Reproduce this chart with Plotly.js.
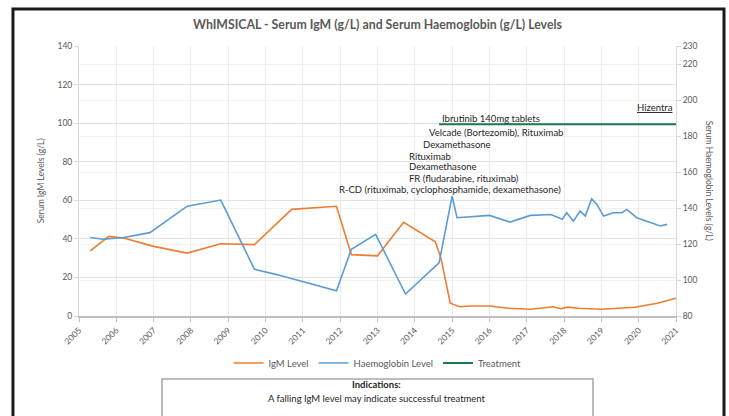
<!DOCTYPE html>
<html>
<head>
<meta charset="utf-8">
<script src="https://cdn.plot.ly/plotly-3.0.1.min.js"></script>
<style>
html,body{margin:0;padding:0;background:#fff;}
#chart{width:729px;height:416px;}
</style>
</head>
<body>
<div id="chart"></div>
<script>
// ---- Data (decimal years) ----
var igmDates = [2005.3, 2005.8, 2006.2, 2007.0, 2007.9, 2008.8, 2009.7, 2010.7, 2011.9, 2012.3, 2013.0, 2013.7, 2014.55, 2014.7, 2014.95, 2015.2, 2015.5, 2016.0, 2016.5, 2017.1, 2017.7, 2017.9, 2018.1, 2018.4, 2019.0, 2019.9, 2020.5, 2021.0];
var igmValues = [33.8, 41.3, 40.4, 36.1, 32.6, 37.5, 37.0, 55.3, 56.9, 31.8, 31.2, 48.6, 38.5, 30.0, 6.6, 4.8, 5.2, 5.2, 4.0, 3.5, 4.8, 3.8, 4.6, 4.0, 3.5, 4.5, 6.6, 9.2];

var hbDates = [2005.3, 2005.65, 2006.2, 2006.9, 2007.9, 2008.8, 2009.7, 2010.3, 2011.9, 2012.3, 2012.95, 2013.75, 2014.65, 2015.0, 2015.13, 2016.0, 2016.55, 2017.1, 2017.65, 2017.95, 2018.07, 2018.25, 2018.43, 2018.57, 2018.74, 2018.88, 2019.06, 2019.32, 2019.55, 2019.68, 2019.95, 2020.31, 2020.58, 2020.76];
var hbValues = [123.6, 122.6, 123.6, 126.3, 141.0, 144.4, 106.0, 103.0, 94.0, 117.1, 125.4, 92.2, 109.5, 146.6, 134.6, 135.9, 132.2, 135.9, 136.4, 133.7, 137.4, 132.7, 138.3, 135.5, 145.1, 142.0, 135.5, 137.4, 137.4, 139.2, 134.6, 131.9, 130.0, 130.9];

var treatmentLineDates = [2014.65, 2021.0];
var treatmentLineLevels = [99.4, 99.4];

var treatmentNames = [
  "R-CD (rituximab, cyclophosphamide, dexamethasone)",
  "FR (fludarabine, rituximab)",
  "Dexamethasone",
  "Rituximab",
  "Dexamethasone",
  "Velcade (Bortezomib), Rituximab",
  "Ibrutinib 140mg tablets",
  "<u>Hizentra</u>"
];
var treatmentDates = [2011.92, 2013.79, 2013.79, 2013.79, 2014.17, 2014.33, 2014.68, 2019.9];
var treatmentLevels = [65.6, 71.3, 77.6, 82.8, 89.0, 95.3, 102.6, 108.0];

var yearTicks = [2005,2006,2007,2008,2009,2010,2011,2012,2013,2014,2015,2016,2017,2018,2019,2020,2021];
var yearLabels = yearTicks.map(String);
var leftTicks = [0,20,40,60,80,100,120,140];
var rightTicks = [80,100,120,140,160,180,200,220,230];

var chartTitle = "WhIMSICAL - Serum IgM (g/L) and Serum Haemoglobin (g/L) Levels";
var leftTitle = "Serum IgM Levels (g/L)";
var rightTitle = "Serum Haemoglobin Levels (g/L)";
var noteTitle = "Indications:";
var noteText = "A falling IgM level may indicate successful treatment";

// ---- Traces ----
var FONT = "Lato, 'Liberation Sans', sans-serif";
var traces = [
  {x: igmDates, y: igmValues, name: "IgM Level", mode: "lines", type: "scatter",
   line: {color: "#ED7D31", width: 1.6}, yaxis: "y"},
  {x: hbDates, y: hbValues, name: "Haemoglobin Level", mode: "lines", type: "scatter",
   line: {color: "#5B9BD5", width: 1.6}, yaxis: "y2"},
  {x: treatmentLineDates, y: treatmentLineLevels, name: "Treatment", mode: "lines", type: "scatter",
   line: {color: "#1E7A4C", width: 2}, yaxis: "y"}
];

var annotations = treatmentNames.map(function(t, i){
  return {x: treatmentDates[i], y: treatmentLevels[i], xref: "x", yref: "y",
    text: t, showarrow: false, xanchor: "left", yanchor: "middle",
    font: {family: FONT, size: 9.5, color: "#262626"}};
});
annotations.push({x: -0.075, y: 0.5, xref: "paper", yref: "paper", text: leftTitle,
  showarrow: false, textangle: -90, font: {family: FONT, size: 8.5, color: "#595959"}});
annotations.push({x: 1.0676, y: 0.5, xref: "paper", yref: "paper", text: rightTitle,
  showarrow: false, textangle: 90, font: {family: FONT, size: 8.5, color: "#595959"}});
annotations.push({x: 0.499, y: -0.281, xref: "paper", yref: "paper", text: "<b>" + noteTitle + "</b>",
  showarrow: false, font: {family: FONT, size: 9.5, color: "#262626"}});
annotations.push({x: 0.499, y: -0.333, xref: "paper", yref: "paper", text: noteText,
  showarrow: false, font: {family: FONT, size: 9.5, color: "#262626"}});

var layout = {
  width: 729, height: 416,
  margin: {l: 79, r: 53, t: 46, b: 100, pad: 0},
  paper_bgcolor: "#ffffff", plot_bgcolor: "#ffffff",
  font: {family: FONT, size: 8.5, color: "#595959"},
  title: {text: "<b>" + chartTitle + "</b>", x: 0.5, xref: "paper", xanchor: "center",
    y: 1 - 25/416, yref: "container", yanchor: "middle",
    font: {family: FONT, size: 12.3, color: "#595959"}},
  xaxis: {range: [2005, 2021], tickmode: "array", tickvals: yearTicks, ticktext: yearLabels,
    tickangle: -45, showgrid: true, gridcolor: "#ebebeb", gridwidth: 1,
    showline: true, linecolor: "#bfbfbf", linewidth: 2, ticks: "outside", ticklen: 4,
    tickcolor: "#bfbfbf", zeroline: false, tickfont: {size: 8.5, color: "#595959"}},
  yaxis: {range: [0, 140], tickmode: "array", tickvals: leftTicks, showgrid: true,
    gridcolor: "#e3e3e3", showline: true, linecolor: "#d9d9d9", linewidth: 1,
    ticks: "outside", ticklen: 4, tickcolor: "#d9d9d9", zeroline: false,
    tickfont: {size: 8.5, color: "#595959"}},
  yaxis2: {range: [80, 230], tickmode: "array", tickvals: rightTicks, overlaying: "y", side: "right",
    showgrid: true, gridcolor: "#f2f2f2", showline: true, linecolor: "#d9d9d9", linewidth: 1,
    ticks: "outside", ticklen: 4, tickcolor: "#d9d9d9", zeroline: false,
    tickfont: {size: 8.5, color: "#595959"}},
  showlegend: true,
  legend: {orientation: "h", x: 0.5, xanchor: "center", y: -0.174, yanchor: "middle",
    font: {family: FONT, size: 9.5, color: "#595959"}, bgcolor: "rgba(0,0,0,0)"},
  shapes: [
    {type: "rect", xref: "paper", yref: "paper", x0: 0.139, x1: 0.861, y0: -0.45, y1: -0.233,
     line: {color: "#a6a6a6", width: 1.5}, fillcolor: "rgba(0,0,0,0)", layer: "above"},
    {type: "rect", xref: "paper", yref: "paper", x0: -0.1106, x1: 1.0804, y0: -0.45, y1: 1.137,
     line: {color: "#1a1a1a", width: 3}, fillcolor: "rgba(0,0,0,0)", layer: "above"}
  ],
  annotations: annotations
};

Plotly.newPlot("chart", traces, layout, {staticPlot: true, displayModeBar: false});
</script>
</body>
</html>
